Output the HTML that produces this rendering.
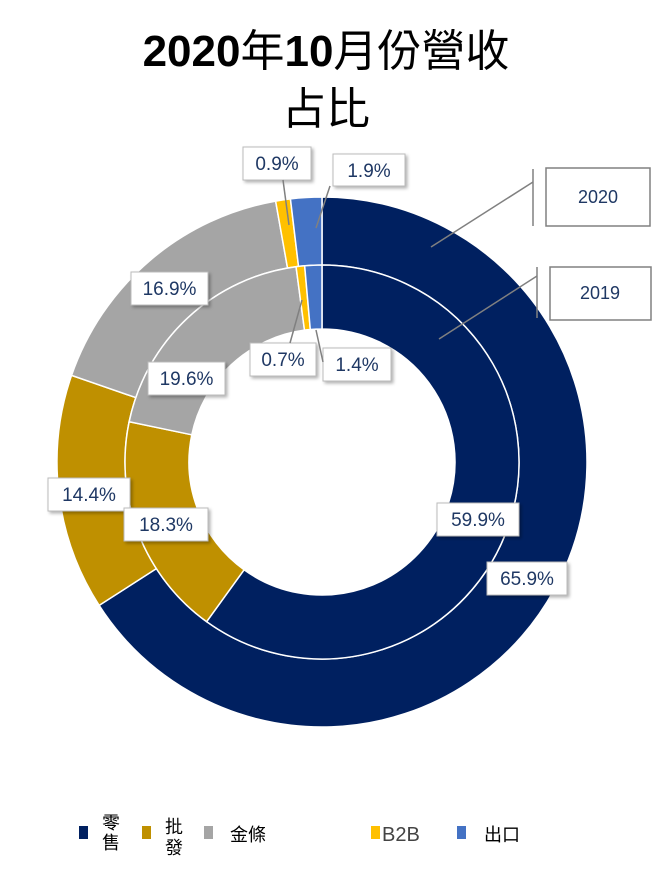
<!DOCTYPE html>
<html><head><meta charset="utf-8"><style>
body{margin:0;background:#fff;width:659px;height:867px;overflow:hidden;font-family:"Liberation Sans","Noto Sans CJK TC",sans-serif}
</style></head><body>
<svg id="s" width="659" height="867" xmlns="http://www.w3.org/2000/svg">
<defs><filter id="sh" x="-20%" y="-20%" width="150%" height="160%"><feDropShadow dx="2" dy="2" stdDeviation="1.5" flood-color="#000" flood-opacity="0.3"/></filter></defs>
<text x="326" y="66" text-anchor="middle" font-size="44" font-family="Liberation Sans,Noto Sans CJK TC,sans-serif"><tspan font-weight="bold">2020</tspan>年<tspan font-weight="bold">10</tspan>月份營收</text>
<text x="326" y="124" text-anchor="middle" font-size="44" font-family="Noto Sans CJK TC,sans-serif">占比</text>
<g id="rings"></g>
<g id="labels" font-family="Liberation Sans,sans-serif" font-size="19" fill="#1F3864"></g>
<g stroke="#808080" stroke-width="1.5" fill="none">
<line x1="533" y1="169" x2="533" y2="226"/><line x1="533" y1="182" x2="431" y2="247"/>
<line x1="537" y1="267" x2="537" y2="318"/><line x1="537" y1="276" x2="439" y2="339"/>
<line x1="283" y1="180" x2="289" y2="225"/><line x1="330" y1="186" x2="316" y2="228"/>
<line x1="290" y1="343" x2="302" y2="300"/><line x1="323" y1="362" x2="316" y2="330"/>
</g>
<rect x="546" y="168" width="104" height="58" fill="#fff" stroke="#808080" stroke-width="1.5"/>
<text x="598" y="203" text-anchor="middle" font-size="18" fill="#1F3864" font-family="Liberation Sans,sans-serif">2020</text>
<rect x="550" y="267" width="101" height="53" fill="#fff" stroke="#808080" stroke-width="1.5"/>
<text x="600" y="299" text-anchor="middle" font-size="18" fill="#1F3864" font-family="Liberation Sans,sans-serif">2019</text>
<g font-family="Noto Sans CJK TC,sans-serif" font-size="18">
<rect x="79" y="826" width="9" height="13" fill="#002060"/><text x="102" y="829">零</text><text x="102" y="849">售</text>
<rect x="142" y="826" width="9" height="13" fill="#BF9000"/><text x="165" y="833">批</text><text x="165" y="854">發</text>
<rect x="204" y="826" width="9" height="13" fill="#A5A5A5"/><text x="230" y="841">金條</text>
<rect x="371" y="826" width="9" height="13" fill="#FFC000"/><text x="382" y="841" font-size="20" font-family="Liberation Sans,sans-serif" fill="#444">B2B</text>
<rect x="457" y="826" width="9" height="13" fill="#4472C4"/><text x="484" y="841">出口</text>
</g>
</svg>
<script>
var cx=322,cy=462,cols=["#002060","#BF9000","#A5A5A5","#FFC000","#4472C4"];
function pt(r,a){a=a*Math.PI/180;return [cx+r*Math.sin(a),cy-r*Math.cos(a)];}
function ring(vals,r0,r1){var g=document.getElementById("rings"),s=0,tot=vals.reduce((a,b)=>a+b,0);
vals.forEach(function(v,i){var a0=s/tot*360,a1=(s+v)/tot*360;s+=v;var L=(a1-a0)>180?1:0;
var p0=pt(r1,a0),p1=pt(r1,a1),p2=pt(r0,a1),p3=pt(r0,a0);
var d="M"+p0+"A"+r1+","+r1+" 0 "+L+" 1 "+p1+"L"+p2+"A"+r0+","+r0+" 0 "+L+" 0 "+p3+"Z";
var e=document.createElementNS("http://www.w3.org/2000/svg","path");e.setAttribute("d",d);e.setAttribute("fill",cols[i]);e.setAttribute("stroke","#fff");e.setAttribute("stroke-width","1.5");g.appendChild(e);});}
ring([65.9,14.4,16.9,0.9,1.9],197,265);
ring([59.9,18.3,19.6,0.7,1.4],133,197);
var L=[["0.9%",243,147,68,33],["1.9%",333,154,72,32],["16.9%",131,272,77,33],["19.6%",148,362,77,33],["0.7%",250,343,66,33],["1.4%",323,348,68,33],["14.4%",48,478,82,33],["18.3%",124,508,84,33],["59.9%",437,503,82,33],["65.9%",487,562,80,33]];
var g=document.getElementById("labels");
L.forEach(function(l){var r=document.createElementNS("http://www.w3.org/2000/svg","rect");
r.setAttribute("x",l[1]);r.setAttribute("y",l[2]);r.setAttribute("width",l[3]);r.setAttribute("height",l[4]);
r.setAttribute("fill","#fff");r.setAttribute("stroke","#bbb");r.setAttribute("filter","url(#sh)");g.appendChild(r);
var t=document.createElementNS("http://www.w3.org/2000/svg","text");t.setAttribute("x",l[1]+l[3]/2);t.setAttribute("y",l[2]+23);
t.setAttribute("text-anchor","middle");t.textContent=l[0];g.appendChild(t);});
</script>
</body></html>
